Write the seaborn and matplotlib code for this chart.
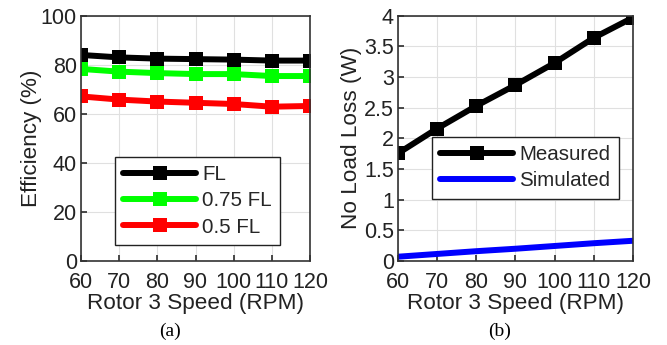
import matplotlib
matplotlib.use("Agg")
import matplotlib.pyplot as plt
import seaborn as sns
import pandas as pd

speed = [60, 70, 80, 90, 100, 110, 120]
eff_fl = [84.0, 83.0, 82.5, 82.3, 82.1, 81.7, 81.7]
eff_075 = [78.3, 77.2, 76.6, 76.2, 76.2, 75.4, 75.4]
eff_05 = [67.1, 65.8, 65.0, 64.5, 64.0, 62.9, 63.2]
loss_measured = [1.755, 2.16, 2.53, 2.87, 3.23, 3.64, 3.97]
loss_simulated = [0.07, 0.115, 0.16, 0.20, 0.245, 0.29, 0.33]

sns.set_theme(style="whitegrid")
plt.rcParams['font.family'] = ['Liberation Sans', 'DejaVu Sans']
FS = 15.5
LFS = 16.2
LEGFS = 14.8

fig = plt.figure(figsize=(6.67, 3.45), dpi=100)
ax1 = fig.add_axes([81/667, 1-261/345, (310-81)/667, (261-15.7)/345])
ax2 = fig.add_axes([398/667, 1-261/345, (633-398)/667, (261-15.7)/345])

dfa = pd.DataFrame({
    "speed": speed * 3,
    "eff": eff_fl + eff_075 + eff_05,
    "series": ["FL"] * 7 + ["0.75 FL"] * 7 + ["0.5 FL"] * 7,
})
sns.lineplot(data=dfa, x="speed", y="eff", hue="series",
             palette={"FL": "#000000", "0.75 FL": "#00ff00", "0.5 FL": "#ff0000"},
             marker="s", markersize=10.5, markeredgewidth=0, linewidth=4.3,
             ax=ax1, hue_order=["FL", "0.75 FL", "0.5 FL"])

dfm = pd.DataFrame({"speed": speed, "loss": loss_measured})
dfs = pd.DataFrame({"speed": speed, "loss": loss_simulated})
sns.lineplot(data=dfm, x="speed", y="loss", color="black", marker="s",
             markersize=10.5, markeredgewidth=0, linewidth=4.3, ax=ax2, label="Measured")
sns.lineplot(data=dfs, x="speed", y="loss", color="#0000ff", linewidth=4.3,
             ax=ax2, label="Simulated")

for ax in (ax1, ax2):
    ax.set_xlim(60, 120)
    ax.set_xticks(speed)
    ax.grid(True, color="#e0e0e0", linewidth=0.8)
    for s in ax.spines.values():
        s.set_color("#333333")
        s.set_linewidth(1.2)
    ax.tick_params(axis="both", direction="in", length=4, colors="#333333",
                   labelsize=FS, labelcolor="#222222",
                   left=True, bottom=True)
    ax.tick_params(axis="x", pad=8)
    ax.tick_params(axis="y", pad=3)
    ax.set_xlabel("Rotor 3 Speed (RPM)", fontsize=LFS, color="#222222", labelpad=0)

ax1.set_ylim(0, 100)
ax1.set_yticks([0, 20, 40, 60, 80, 100])
ax1.set_ylabel("Efficiency (%)", fontsize=LFS, color="#222222", labelpad=-1)
ax2.set_ylim(0, 4)
ax2.set_yticks([0, 0.5, 1, 1.5, 2, 2.5, 3, 3.5, 4])
ax2.set_yticklabels(["0", "0.5", "1", "1.5", "2", "2.5", "3", "3.5", "4"])
ax2.set_ylabel("No Load Loss (W)", fontsize=LFS, color="#222222", labelpad=1)

leg1 = ax1.legend(loc="upper left", bbox_to_anchor=((115-81)/229, (261-157)/245.3),
                  fontsize=LEGFS, frameon=True, fancybox=False, edgecolor="#222222",
                  framealpha=1, handlelength=3.55, borderpad=0.4, labelspacing=0.35,
                  handletextpad=0.3, borderaxespad=0)
leg1.get_frame().set_linewidth(1.0)
leg2 = ax2.legend(loc="upper left", bbox_to_anchor=((432-398)/235, (261-137)/245.3),
                  fontsize=LEGFS, frameon=True, fancybox=False, edgecolor="#222222",
                  framealpha=1, handlelength=3.55, borderpad=0.4, labelspacing=0.35,
                  handletextpad=0.3, borderaxespad=0)
leg2.get_frame().set_linewidth(1.0)

fig.text(170/667, 1-331/345, "(a)", fontsize=14, family="Liberation Serif",
         ha="center", va="center", color="black")
fig.text(500/667, 1-331/345, "(b)", fontsize=14, family="Liberation Serif",
         ha="center", va="center", color="black")

fig.savefig("out.png", dpi=100)
